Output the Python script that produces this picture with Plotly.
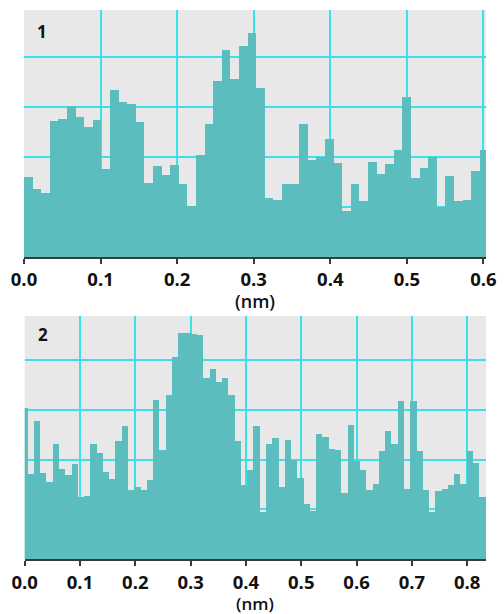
import plotly.graph_objects as go

# ---- data ----
panel1_heights = [1.61, 1.37, 1.29, 2.73, 2.77, 3.03, 2.81, 2.61, 2.74, 1.77,
                  3.34, 3.11, 3.06, 2.70, 1.49, 1.82, 1.64, 1.84, 1.46, 1.03,
                  2.04, 2.67, 3.52, 4.15, 3.56, 4.23, 4.49, 3.39, 1.19, 1.14,
                  1.46, 1.46, 2.67, 1.95, 2.01, 2.37, 1.89, 0.92, 1.46, 1.12,
                  1.91, 1.66, 1.87, 2.14, 3.21, 1.59, 1.79, 2.01, 1.01, 1.62,
                  1.13, 1.15, 1.72, 2.14]
panel1_bin_width = 0.01123
panel1_first_edge = 0.0

panel2_heights = [3.03, 1.72, 2.77, 1.74, 1.55, 2.31, 1.82, 1.69, 1.91, 1.25,
                  1.27, 2.31, 2.13, 1.75, 1.62, 2.37, 2.67, 1.39, 1.45, 1.39,
                  1.60, 3.20, 2.19, 3.29, 4.07, 4.55, 4.55, 4.53, 4.51, 3.64,
                  3.82, 3.55, 3.65, 3.29, 2.37, 1.49, 1.80, 2.67, 0.95, 2.31,
                  2.44, 1.45, 2.40, 2.00, 1.64, 1.12, 0.96, 2.51, 2.45, 2.21,
                  2.20, 1.33, 2.70, 1.98, 1.79, 1.39, 1.52, 2.17, 2.57, 2.32,
                  3.18, 1.42, 3.18, 2.17, 1.39, 0.95, 1.38, 1.42, 1.49, 1.72,
                  1.52, 2.17, 1.93, 1.25, 2.34]
panel2_bin_width = 0.01134
panel2_first_edge = -0.0066

panel1_ticks = [0.0, 0.1, 0.2, 0.3, 0.4, 0.5, 0.6]
panel1_ticktext = ["0.0", "0.1", "0.2", "0.3", "0.4", "0.5", "0.6"]
panel2_ticks = [0.0, 0.1, 0.2, 0.3, 0.4, 0.5, 0.6, 0.7, 0.8]
panel2_ticktext = ["0.0", "0.1", "0.2", "0.3", "0.4", "0.5", "0.6", "0.7", "0.8"]
panel_labels = ["1", "2"]
axis_title = "(nm)"

# ---- styling ----
W, H = 504, 614
TEAL = "#5BBDBD"
GRID = "#38E2E8"
BG = "#E8E8E8"
AX = "#3a3a3a"
FONT = "Open Sans"
TXT = "#111111"

x1 = [panel1_first_edge + (i + 0.5) * panel1_bin_width for i in range(len(panel1_heights))]
x2 = [panel2_first_edge + (i + 0.5) * panel2_bin_width for i in range(len(panel2_heights))]

fig = go.Figure()
fig.add_trace(go.Bar(x=x1, y=panel1_heights, width=panel1_bin_width,
                     marker=dict(color=TEAL, line=dict(width=0)),
                     xaxis="x", yaxis="y", hoverinfo="skip"))
fig.add_trace(go.Bar(x=x2, y=panel2_heights, width=panel2_bin_width,
                     marker=dict(color=TEAL, line=dict(width=0)),
                     xaxis="x2", yaxis="y2", hoverinfo="skip"))


def xaxis_style(domain, rng, tv, tt, anchor):
    return dict(domain=domain, range=rng, anchor=anchor,
                tickmode="array", tickvals=tv, ticktext=tt,
                showgrid=True, gridcolor=GRID, gridwidth=2,
                zeroline=False, showline=True, linecolor=AX, linewidth=2,
                ticks="outside", ticklen=5, tickwidth=2, tickcolor=AX,
                tickfont=dict(family=FONT, size=18.5, color=TXT, weight="bold"),
                automargin=False, fixedrange=True)


def yaxis_style(domain, rng, anchor):
    return dict(domain=domain, range=rng, anchor=anchor,
                tick0=0, dtick=1, showticklabels=False, ticks="",
                showgrid=True, gridcolor=GRID, gridwidth=2,
                zeroline=False, showline=False, automargin=False, fixedrange=True)


def text_ann(text, px, py, size, weight):
    return dict(text=text, x=px / W, y=1 - py / H, xref="paper", yref="paper",
                xanchor="center", yanchor="middle", showarrow=False,
                font=dict(family=FONT, size=size, color=TXT, weight=weight))


fig.update_layout(
    width=W, height=H,
    margin=dict(l=0, r=0, t=0, b=0),
    paper_bgcolor="white", plot_bgcolor=BG,
    showlegend=False, bargap=0, barmode="overlay",
    xaxis=xaxis_style([24 / W, 486 / W], [0, 0.6033], panel1_ticks, panel1_ticktext, "y"),
    yaxis=yaxis_style([1 - 257 / H, 1 - 10 / H], [0, 4.94], "x"),
    xaxis2=xaxis_style([24.7 / W, 486 / W], [0, 0.834], panel2_ticks, panel2_ticktext, "y2"),
    yaxis2=yaxis_style([1 - 559.3 / H, 1 - 316 / H], [0, 4.885], "x2"),
    annotations=[
        text_ann(panel_labels[0], 42, 31, 17, "bold"),
        text_ann(panel_labels[1], 43, 334, 17, "bold"),
        text_ann(axis_title, 255, 301, 18, 600),
        text_ann(axis_title, 255, 603, 17, 600),
    ],
)

fig.write_html("out.html")
